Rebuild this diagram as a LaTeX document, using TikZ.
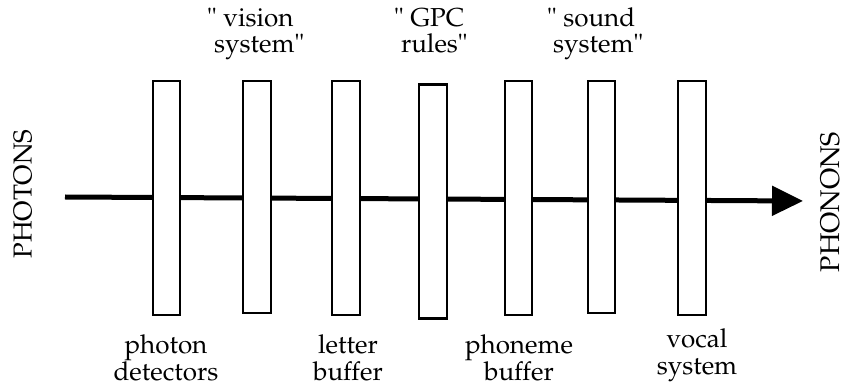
\documentclass[tikz,border=0pt]{standalone}
\usepackage[T1]{fontenc}
\usepackage{mathpazo}
\usetikzlibrary{arrows.meta}
\begin{document}
\begin{tikzpicture}[x=1pt,y=-1pt,
  stage/.style={draw=black,line width=2.2pt,fill=white,minimum width=27.5pt,inner sep=0pt,anchor=north},
  toplbl/.style={align=left,font=\fontsize{26}{26}\selectfont,inner sep=0pt,anchor=base west},
  botlbl/.style={align=center,font=\fontsize{26}{27}\selectfont,inner sep=0pt,anchor=base},
  side/.style={font=\fontsize{26}{26}\selectfont,inner sep=0pt,rotate=90}]
\useasboundingbox (0,0) rectangle (844,387);
% signal path
\coordinate (start) at (65,197);
\coordinate (stop) at (803,201);
\draw[line width=5pt,-{Triangle[length=31pt,width=29pt]}] (start) -- (stop);
% processing stages
\node[stage,minimum height=234pt] (s1) at (166.5,80) {};
\node[stage,minimum height=232pt] (s2) at (257,80) {};
\node[stage,minimum height=234pt] (s3) at (346,80) {};
\node[stage,minimum height=234pt] (s4) at (433,83.5) {};
\node[stage,minimum height=234pt] (s5) at (518.5,80) {};
\node[stage,minimum height=232pt] (s6) at (601.5,80) {};
\node[stage,minimum height=234pt] (s7) at (692,80) {};
% top labels (anchored at the baseline of their second line)
\node[toplbl] (l2) at (207,53) {" vision\\\hspace*{7pt}system"};
\node[toplbl] (l4) at (394,53) {" GPC\\\hspace*{7pt}rules"};
\node[toplbl] (l6) at (547,53) {" sound\\\hspace*{6pt}system"};
% bottom labels
\node[botlbl] (l1) at (166,381) {photon\\detectors};
\node[botlbl] (l3) at (348,381) {letter\\buffer};
\node[botlbl] (l5) at (519,381) {phoneme\\buffer};
\node[botlbl] (l7) at (697,375) {vocal\\system};
% end labels
\node[side] (in) at (23,194) {PHOTONS};
\node[side,font=\fontsize{27}{27}\selectfont] (out) at (830,202) {PHONONS};
\end{tikzpicture}
\end{document}
